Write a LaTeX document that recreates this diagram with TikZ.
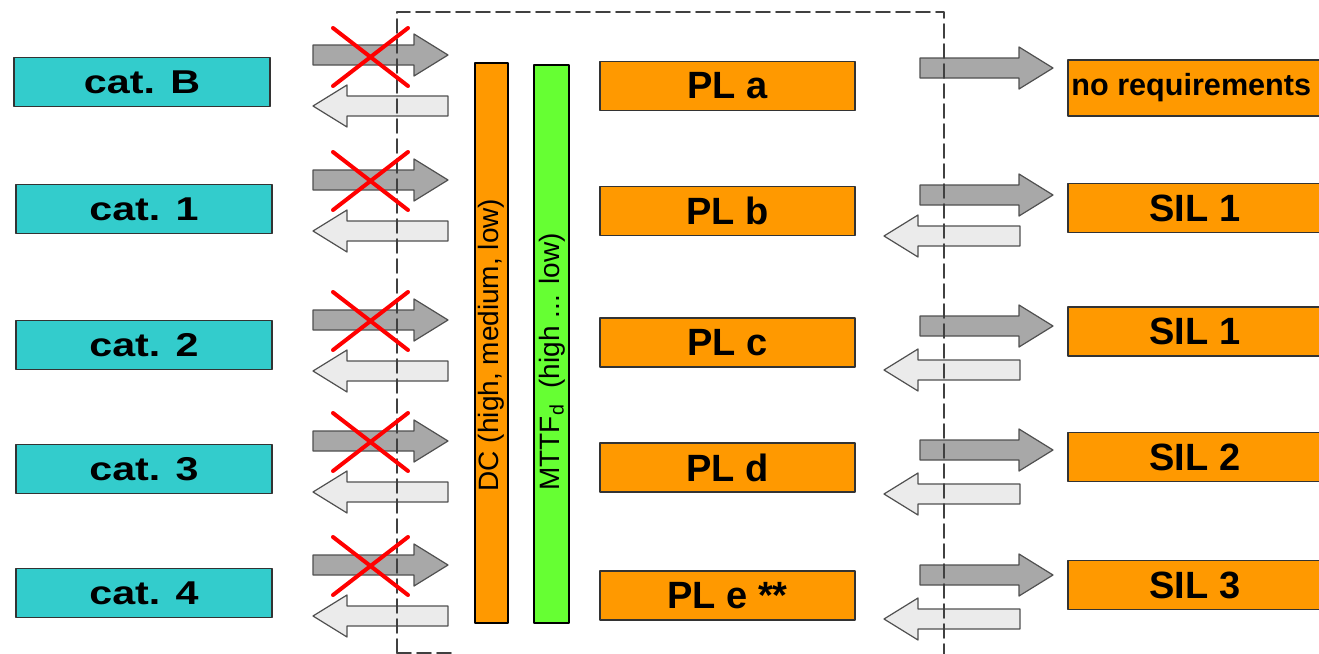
\documentclass[tikz,border=0pt]{standalone}
\usepackage{fontspec}
\setmainfont{Liberation Sans}
\newfontfamily\widefont[FakeStretch=1.25]{Liberation Sans}
\usepackage{tikz}
\usetikzlibrary{arrows}

\definecolor{cattur}{HTML}{33CCCC}
\definecolor{plorange}{HTML}{FF9900}
\definecolor{mttfgreen}{HTML}{66FF33}
\definecolor{arrdark}{HTML}{A8A8A8}
\definecolor{arrlight}{HTML}{EBEBEB}
\definecolor{arredge}{HTML}{505050}

\tikzset{
  catbox/.style={draw=black!80,line width=0.6pt,fill=cattur,minimum width=128pt,minimum height=24.5pt,inner sep=0pt,font=\widefont\fontsize{16.5}{16.5}\bfseries},
  plbox/.style={draw=black!80,line width=0.6pt,fill=plorange,minimum width=127.5pt,minimum height=24.5pt,inner sep=0pt,font=\fontsize{19}{19}\selectfont\bfseries},
  silbox/.style={plbox,minimum width=127pt},
  bar/.style={draw=black,line width=1.2pt,inner sep=0pt},
  bartext/.style={rotate=90,font=\fontsize{14}{14}\selectfont},
  fatdark/.style={fill=arrdark,draw=arredge,line width=0.6pt},
  fatlight/.style={fill=arrlight,draw=arredge,line width=0.6pt},
  redx/.style={draw=red,line width=2pt},
  frame/.style={draw=black!75,line width=0.8pt,dash pattern=on 7pt off 3pt}
}

% block arrows: tail x, tip x, centre y
\newcommand{\fatright}[3]{\filldraw[fatdark] (#1,#3-10) -- (#2-34,#3-10) -- (#2-34,#3-21) -- (#2,#3) -- (#2-34,#3+21) -- (#2-34,#3+10) -- (#1,#3+10) -- cycle;}
% tip x, tail x, centre y
\newcommand{\fatleft}[3]{\filldraw[fatlight] (#1,#3) -- (#1+34,#3-21) -- (#1+34,#3-10) -- (#2,#3-10) -- (#2,#3+10) -- (#1+34,#3+10) -- (#1+34,#3+21) -- cycle;}
% red cross over an arrow
\newcommand{\nogo}[2]{\draw[redx] (#1-37,#2-29) -- (#1+38,#2+29); \draw[redx] (#1-37,#2+29) -- (#1+38,#2-29);}

\begin{document}
\begin{tikzpicture}[line cap=round,line join=round,x=0.5pt,y=-0.5pt]
\useasboundingbox[fill=white] (0,0) rectangle (1319,654);
\clip (0,0) rectangle (1319,654);

% categories
\node[catbox] (catB) at (142,82) {cat. B};
\node[catbox] (cat1) at (144,209) {cat. 1};
\node[catbox] (cat2) at (144,345) {cat. 2};
\node[catbox] (cat3) at (144,469) {cat. 3};
\node[catbox] (cat4) at (144,593) {cat. 4};

% left arrows
\foreach \y in {55,180,320,441,565} {\fatright{313}{448}{\y}}
\foreach \y in {106,231,371,492,616} {\fatleft{313}{448}{\y}}

% right arrows
\foreach \y in {68,195,326,450,575} {\fatright{920}{1053}{\y}}
\foreach \y in {236,370,494,619} {\fatleft{884}{1020}{\y}}

% dashed frame
\draw[frame] (397,653) -- (397,12) -- (944,12) -- (944,660);
\draw[frame] (397,653) -- (455,653);

% DC and MTTFd bars
\node[bar,fill=plorange,minimum width=16.5pt,minimum height=280pt] (dc) at (491.5,343) {};
\node[bar,fill=mttfgreen,minimum width=17.5pt,minimum height=279pt] (mttf) at (551.5,344) {};
\node[bartext] (dctxt) at (491,345) {DC (high, medium, low)};
\node[bartext] (mttftxt) at (552,362) {MTTF\textsubscript{d}\ \ (high ... low)};

% performance levels
\node[plbox] (pla) at (727.5,86) {PL a};
\node[plbox] (plb) at (727.5,211) {PL b};
\node[plbox] (plc) at (727.5,342.5) {PL c};
\node[plbox] (pld) at (727.5,467.5) {PL d};
\node[plbox] (ple) at (727.5,595.5) {PL e **};

% SIL
\node[silbox,minimum height=28pt] (noreq) at (1195,88) {};
\node[anchor=west,inner sep=0pt,font=\fontsize{15.3}{15.3}\selectfont\bfseries] (noreqtxt) at (1071,88) {no requirements};
\node[silbox] (sila) at (1195,208) {SIL 1};
\node[silbox] (silb) at (1195,331.5) {SIL 1};
\node[silbox] (sil2) at (1195,457) {SIL 2};
\node[silbox] (sil3) at (1195,585) {SIL 3};

% crossed out
\nogo{370}{57}
\nogo{370}{181}
\nogo{370}{321}
\nogo{370}{442}
\nogo{370}{566}

\end{tikzpicture}
\end{document}
